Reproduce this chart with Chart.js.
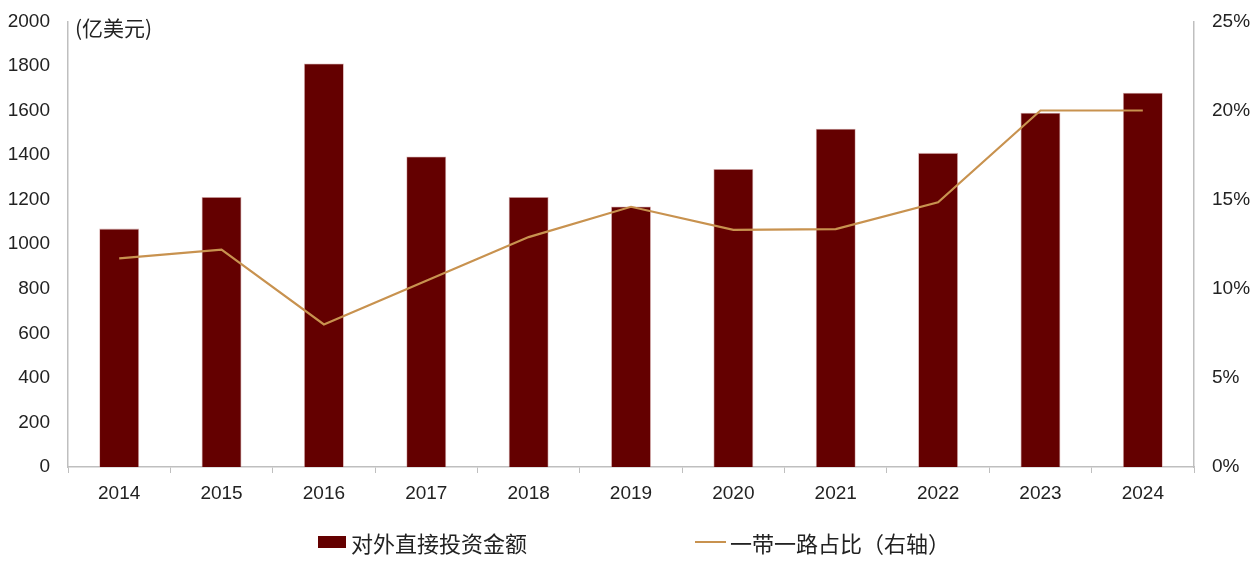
<!DOCTYPE html>
<html>
<head>
<meta charset="utf-8">
<script src="https://cdn.jsdelivr.net/npm/chart.js@4"></script>
<style>
    html, body { margin: 0; padding: 0; background: #fff; }
    #wrap { position: relative; width: 1253px; height: 561px; }
    #legend { position: absolute; top: 527px; left: 0; width: 1253px; height: 30px;
        font-family: "Noto Sans CJK SC", sans-serif; font-size: 22px; color: #222; }
    .item { position: absolute; top: 0; display: flex; align-items: center; height: 30px; }
    .box { width: 28px; height: 12px; background: #640000; margin-right: 5px; }
    .ln { width: 31px; height: 2px; background: #C8924F; margin-right: 4px; }
</style>
</head>
<body>
<div id="wrap">
    <canvas id="chart" width="1253" height="561"></canvas>
    <div id="legend">
        <div class="item" style="left:318px"><div class="box"></div>对外直接投资金额</div>
        <div class="item" style="left:695px"><div class="ln"></div>一带一路占比（右轴）</div>
    </div>
</div>
<script>
// data
const years = ['2014', '2015', '2016', '2017', '2018', '2019', '2020', '2021', '2022', '2023', '2024'];
const fdiAmount = [1070, 1212, 1811, 1394, 1212, 1169, 1338, 1518, 1410, 1590, 1680];
const beltRoadShare = [11.7, 12.2, 8.0, 10.45, 12.9, 14.6, 13.3, 13.35, 14.85, 20.0, 20.0];

const tickFont = { family: '"Liberation Sans", "DejaVu Sans", sans-serif', size: 19 };
const axisGrey = '#bfbfbf';

// draws the "(亿美元)" unit label next to the left axis
const unitLabel = {
    id: 'unitLabel',
    afterDraw(chart) {
        const ctx = chart.ctx;
        ctx.save();
        ctx.font = '21px "Noto Sans CJK SC", sans-serif';
        ctx.fillStyle = '#222';
        ctx.textBaseline = 'middle';
        ctx.fillText('(亿美元)', chart.chartArea.left + 7, 28);
        ctx.restore();
    }
};

var ctx = document.getElementById('chart').getContext('2d');
var chart = new Chart(ctx, {
    data: {
        labels: years,
        datasets: [{
            type: 'line',
            label: '一带一路占比（右轴）',
            data: beltRoadShare,
            yAxisID: 'y1',
            borderColor: '#C8924F',
            borderWidth: 2.2,
            pointRadius: 0,
            tension: 0,
            order: 0
        }, {
            type: 'bar',
            label: '对外直接投资金额',
            data: fdiAmount,
            yAxisID: 'y',
            backgroundColor: '#640000',
            borderColor: 'rgba(190,120,120,0.6)',
            borderWidth: 0.8,
            categoryPercentage: 1,
            barPercentage: 0.39,
            order: 1
        }]
    },
    options: {
        responsive: false,
        animation: false,
        layout: { padding: { top: 15, left: 0, right: 0, bottom: 0 } },
        plugins: {
            legend: { display: false },
            tooltip: { enabled: false }
        },
        scales: {
            x: {
                afterFit: function(scale) { scale.height = 94; },
                grid: {
                    display: true,
                    drawOnChartArea: false,
                    drawTicks: true,
                    tickLength: 6,
                    color: axisGrey
                },
                border: { display: true, color: axisGrey, width: 1.5 },
                ticks: { color: '#222', font: tickFont, padding: 9 }
            },
            y: {
                position: 'left',
                min: 0,
                max: 2000,
                afterFit: function(scale) { scale.width = 68; },
                grid: { display: false },
                border: { display: true, color: axisGrey, width: 1.5 },
                ticks: {
                    stepSize: 200,
                    color: '#222',
                    font: tickFont,
                    padding: 10,
                    callback: function(v) { return String(v); }
                }
            },
            y1: {
                position: 'right',
                min: 0,
                max: 25,
                afterFit: function(scale) { scale.width = 59; },
                grid: { display: false },
                border: { display: true, color: axisGrey, width: 1.5 },
                ticks: {
                    stepSize: 5,
                    color: '#222',
                    font: tickFont,
                    padding: 10,
                    callback: function(v) { return v + '%'; }
                }
            }
        }
    },
    plugins: [unitLabel]
});
</script>
</body>
</html>
